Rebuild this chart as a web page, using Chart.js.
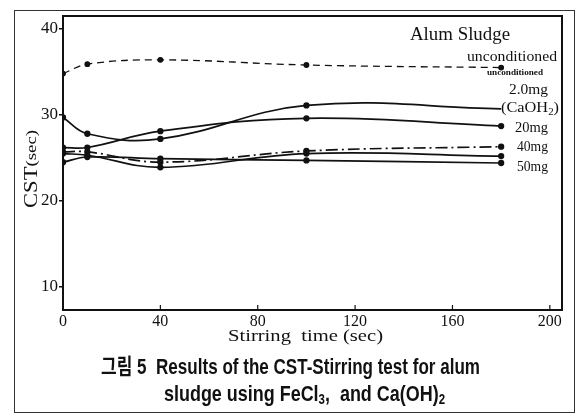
<!DOCTYPE html>
<html>
<head>
<meta charset="utf-8">
<script src="https://cdn.jsdelivr.net/npm/chart.js@4.4.0/dist/chart.umd.min.js"></script>
<style>
  body { margin: 0; background: #fff; }
  canvas { display: block; }
</style>
</head>
<body>
<canvas id="cstChart" width="578" height="413"></canvas>
<script>
// stirring time (sec)
const times = [0, 10, 40, 100, 180];
// CST (sec) for each conditioning
const unconditioned = [34.8, 35.9, 36.4, 35.8, 35.5];
const caOH2 = [29.7, 27.8, 27.2, 31.1, 30.7];
const mg20 = [26.2, 26.2, 28.1, 29.6, 28.7];
const mg40 = [25.7, 25.7, 24.5, 25.8, 26.3];
const mgUnlabelled = [25.5, 25.3, 23.9, 25.5, 25.2];
const mg50 = [24.5, 25.1, 24.9, 24.7, 24.4];
// axis ticks
const xTicks = [0, 40, 80, 120, 160, 200];
const yTicks = [10, 20, 30, 40];

const ink = "#111";
const serif = "'Liberation Serif', 'DejaVu Serif', serif";

function series(vals) {
	return times.map((t, i) => ({ x: t, y: vals[i] }));
}

const base = {
	borderColor: ink,
	backgroundColor: ink,
	borderWidth: 1.7,
	pointRadius: 2.3,
	pointHoverRadius: 2.3,
	tension: 0.4,
	fill: false,
};

// draw text pieces squeezed/stretched to a target width
function drawFitted(ctx, parts, left, cy, targetW) {
	let w = 0;
	parts.forEach((p) => {
		ctx.font = p.font;
		p.w = ctx.measureText(p.t).width;
		w += p.w;
	});
	const sx = targetW ? targetW / w : 1;
	ctx.save();
	ctx.translate(left, cy);
	ctx.scale(sx, 1);
	let x = 0;
	parts.forEach((p) => {
		ctx.font = p.font;
		ctx.fillText(p.t, x, p.dy || 0);
		x += p.w;
	});
	ctx.restore();
}

const decorations = {
	id: "decorations",
	afterDraw(chart) {
		const ctx = chart.ctx;
		const a = chart.chartArea;
		const xs = chart.scales.x;
		ctx.save();
		ctx.strokeStyle = ink;
		ctx.fillStyle = ink;

		// top and right edges of the plot box
		ctx.lineWidth = 2;
		ctx.beginPath();
		ctx.moveTo(a.left, a.top);
		ctx.lineTo(a.right, a.top);
		ctx.lineTo(a.right, a.bottom);
		ctx.stroke();

		// inward x ticks
		ctx.lineWidth = 1.2;
		xTicks.slice(1).forEach((v) => {
			const px = xs.getPixelForValue(v);
			ctx.beginPath();
			ctx.moveTo(px, a.bottom);
			ctx.lineTo(px, a.bottom - 5);
			ctx.stroke();
		});

		// outer figure frame
		ctx.lineWidth = 1;
		ctx.strokeStyle = "#333";
		ctx.strokeRect(14.5, 10.5, 560, 402);

		ctx.textAlign = "left";
		ctx.textBaseline = "middle";

		// labels inside the plot
		drawFitted(ctx, [{ t: "Alum Sludge", font: "19px " + serif }], 410, 35, 100);
		drawFitted(ctx, [{ t: "unconditioned", font: "15px " + serif }], 467, 57, 90);
		drawFitted(ctx, [{ t: "unconditioned", font: "bold 8px " + serif }], 487, 73, 56);
		drawFitted(ctx, [{ t: "2.0mg", font: "15px " + serif }], 509, 90, 39);
		drawFitted(ctx, [
			{ t: "(CaOH", font: "15px " + serif },
			{ t: "2", font: "10px " + serif, dy: 4 },
			{ t: ")", font: "15px " + serif },
		], 501, 108, 58);
		drawFitted(ctx, [{ t: "20mg", font: "15px " + serif }], 515, 128, 33);
		drawFitted(ctx, [{ t: "40mg", font: "15px " + serif }], 517, 147, 31);
		drawFitted(ctx, [{ t: "50mg", font: "15px " + serif }], 517, 167, 31);

		// axis titles
		drawFitted(ctx, [{ t: "Stirring  time (sec)", font: "17px " + serif }], 228, 337, 155);
		ctx.save();
		ctx.translate(32, 169);
		ctx.rotate(-Math.PI / 2);
		drawFitted(ctx, [
			{ t: "CST", font: "18px " + serif },
			{ t: "(sec)", font: "15px " + serif },
		], -39, 0, 78);
		ctx.restore();

		// caption
		const cap = "bold 22px 'Liberation Sans', 'Noto Sans CJK KR', sans-serif";
		const sub = "bold 14px 'Liberation Sans', sans-serif";
		drawFitted(ctx, [{ t: "그림 5  Results of the CST-Stirring test for alum", font: cap }], 101, 368, 379);
		drawFitted(ctx, [
			{ t: "sludge using FeCl", font: cap },
			{ t: "3", font: sub, dy: 5 },
			{ t: ",  and Ca(OH)", font: cap },
			{ t: "2", font: sub, dy: 5 },
		], 164, 395, 281);
		ctx.restore();
	},
};

new Chart(document.getElementById("cstChart"), {
	type: "line",
	data: {
		datasets: [
			{ ...base, label: "unconditioned", data: series(unconditioned), borderDash: [7, 5], borderWidth: 1.3 },
			{ ...base, label: "2.0mg (CaOH2)", data: series(caOH2), pointRadius: [2.3, 2.3, 2.3, 2.3, 0] },
			{ ...base, label: "20mg", data: series(mg20) },
			{ ...base, label: "40mg", data: series(mg40), borderDash: [12, 4, 2, 4] },
			{ ...base, label: "unlabelled", data: series(mgUnlabelled) },
			{ ...base, label: "50mg", data: series(mg50) },
		],
	},
	options: {
		responsive: false,
		animation: false,
		events: [],
		layout: { padding: { top: 16, right: 16, left: 0, bottom: 0 } },
		plugins: {
			legend: { display: false },
			tooltip: { enabled: false },
		},
		scales: {
			x: {
				type: "linear",
				min: 0,
				max: 205,
				afterFit: (s) => { s.height = 103; },
				afterBuildTicks: (s) => { s.ticks = xTicks.map((v) => ({ value: v })); },
				grid: { display: false, drawTicks: false },
				border: { display: true, color: ink, width: 2 },
				ticks: { color: ink, font: { family: serif, size: 16 }, padding: 2, maxRotation: 0 },
			},
			y: {
				min: 7.3,
				max: 41.5,
				afterFit: (s) => { s.width = 63; },
				afterBuildTicks: (s) => { s.ticks = yTicks.map((v) => ({ value: v })); },
				grid: { display: true, drawOnChartArea: false, drawTicks: true, tickLength: 4, color: ink, lineWidth: 1.5 },
				border: { display: true, color: ink, width: 2 },
				ticks: { color: ink, font: { family: serif, size: 17 }, padding: 1 },
			},
		},
	},
	plugins: [decorations],
});
</script>
</body>
</html>
